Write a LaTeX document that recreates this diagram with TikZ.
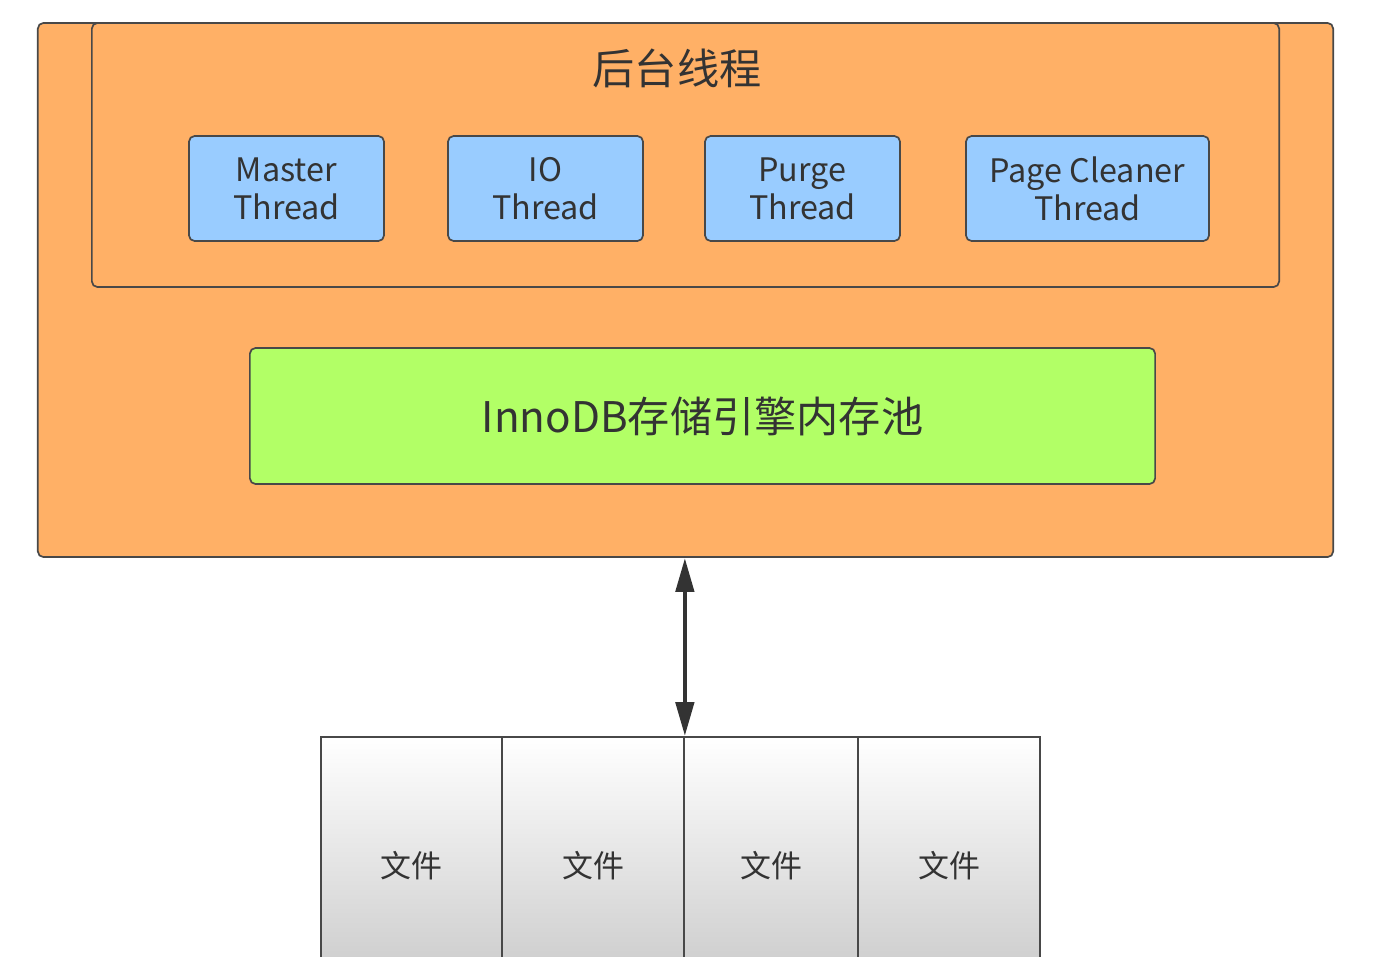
\documentclass[tikz,border=0pt]{standalone}
\usepackage{fontspec}
\setmainfont{Noto Sans CJK SC}
\usetikzlibrary{arrows.meta, positioning}
\definecolor{mydark}{RGB}{51,51,51}
\definecolor{myline}{RGB}{72,72,72}
\definecolor{myorange}{RGB}{255,176,102}
\definecolor{myblue}{RGB}{153,204,255}
\definecolor{mygreen}{RGB}{178,255,102}
\definecolor{myfile}{RGB}{200,200,200}
\tikzset{
  frame/.style={rectangle, draw=myline, fill=myorange, line width=1.2pt,
    rounded corners=4pt},
  thread/.style={rectangle, draw=myline, fill=myblue, line width=1.2pt,
    rounded corners=4pt, minimum height=2.625cm, align=center,
    font=\fontsize{23}{27}\selectfont, text=mydark},
  pool/.style={rectangle, draw=myline, fill=mygreen, line width=1.2pt,
    rounded corners=4pt, minimum width=22.625cm, minimum height=3.4cm,
    font=\fontsize{30}{36}\selectfont, text=mydark},
  filebox/.style={rectangle, draw=myline, line width=1.2pt, top color=white,
    bottom color=myfile, minimum height=6.45cm,
    font=\fontsize{22}{26}\selectfont, text=mydark},
  arrow/.style={{Triangle[length=0.85cm,width=0.45cm]}-{Triangle[length=0.85cm,width=0.45cm]},
    line width=3.3pt, color=mydark}
}
\begin{document}
\begin{tikzpicture}[x=0.025cm, y=-0.025cm]
  \useasboundingbox (0,0) rectangle (1380,956);
  % Outer frame and background threads
  \node[frame, minimum width=32.375cm, minimum height=13.35cm] (outer) at (685.5,290) {};
  \node[frame, minimum width=29.675cm, minimum height=6.6cm] (inner) at (685.5,155) {};
  \node[text=mydark, font=\fontsize{30}{36}\selectfont] (title) at (677,68) {后台线程};

  % Threads
  \node[thread, minimum width=4.875cm] (master) at (286.5,188.5) {Master\\Thread};
  \node[thread, minimum width=4.875cm] (io) at (545.5,188.5) {IO\\Thread};
  \node[thread, minimum width=4.875cm] (purge) at (802.5,188.5) {Purge\\Thread};
  \node[thread, minimum width=6.075cm] (cleaner) at (1087.5,188.5) {Page Cleaner\\Thread};

  % Buffer pool
  \node[pool] (pool) at (702.5,416) {InnoDB存储引擎内存池};

  % Files
  \node[filebox, minimum width=4.525cm] (f1) at (411.5,866) {文件};
  \node[filebox, minimum width=4.55cm] (f2) at (593,866) {文件};
  \node[filebox, minimum width=4.35cm] (f3) at (771,866) {文件};
  \node[filebox, minimum width=4.55cm] (f4) at (949,866) {文件};

  % Connection
  \draw[arrow] (outer.south -| f2.north east) -- (f2.north east);
\end{tikzpicture}
\end{document}
